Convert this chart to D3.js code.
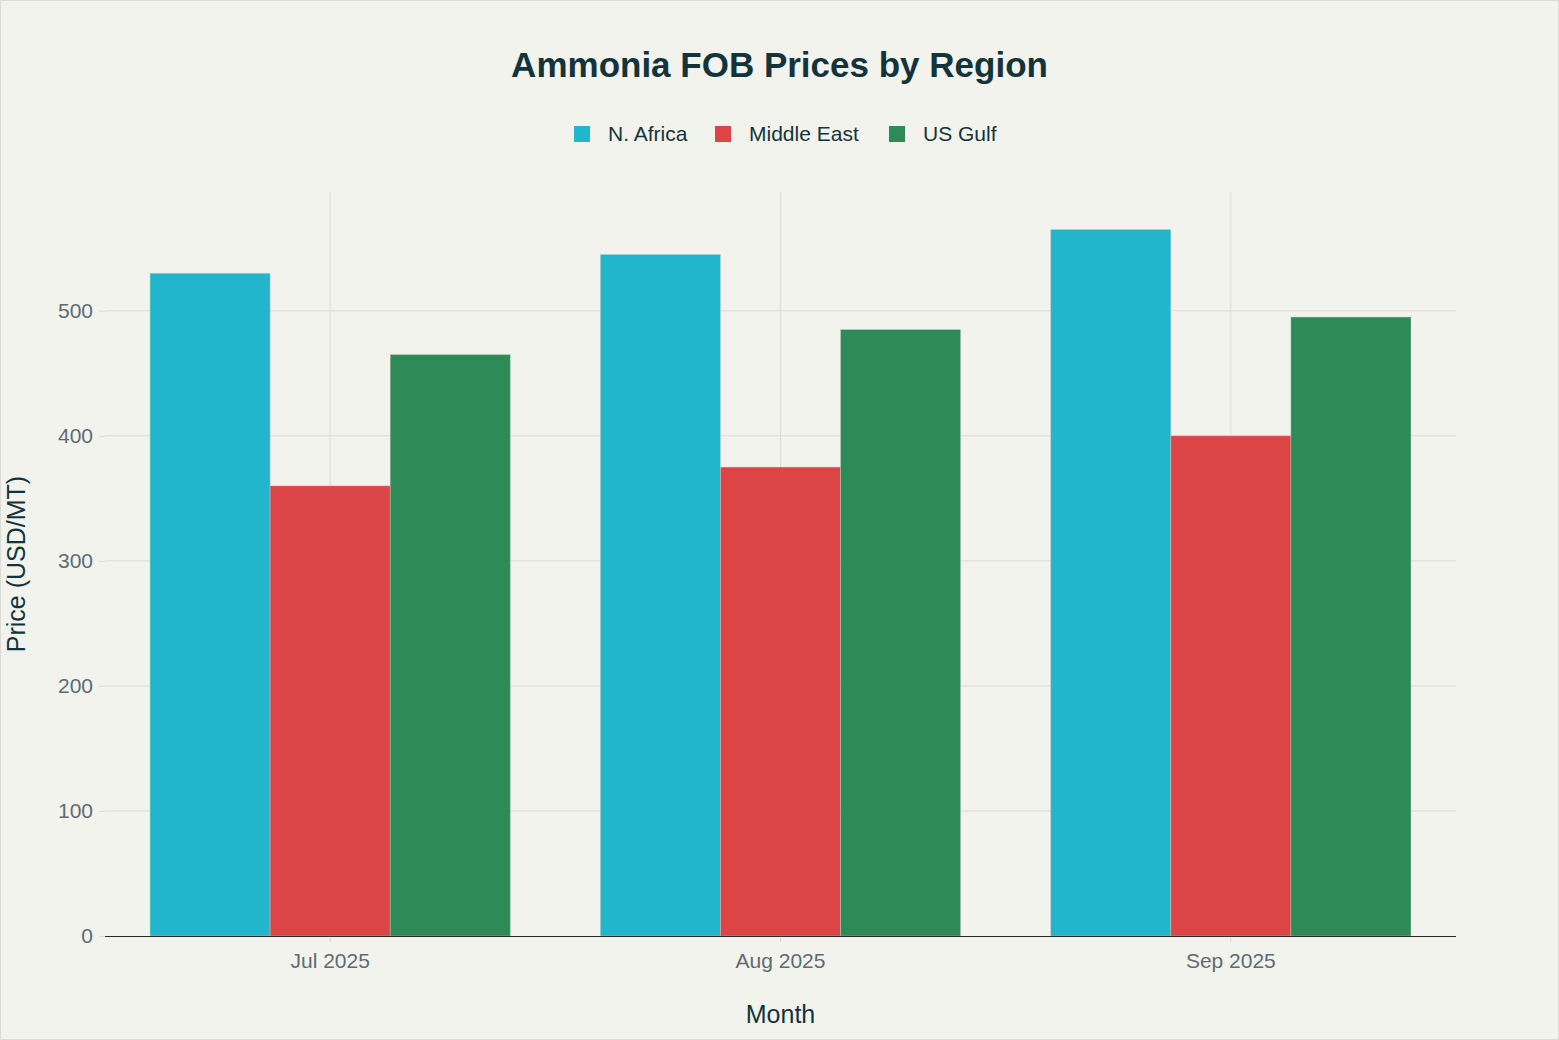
<!DOCTYPE html>
<html>
<head>
<meta charset="utf-8">
<script src="https://cdn.jsdelivr.net/npm/d3@7"></script>
<style>
  html, body { margin: 0; padding: 0; background: #f3f3ee; }
  svg { display: block; font-family: "Liberation Sans", Arial, sans-serif; }
</style>
</head>
<body>
<div id="chart"></div>
<script>
// chart data
const months = ["Jul 2025", "Aug 2025", "Sep 2025"];
const regions = ["N. Africa", "Middle East", "US Gulf"];
const nAfrica = [530, 545, 565];
const middleEast = [360, 375, 400];
const usGulf = [465, 485, 495];
const yTicks = [0, 100, 200, 300, 400, 500];

const seriesValues = [nAfrica, middleEast, usGulf];
const colors = ["#21b6cc", "#db4545", "#2e8b57"];

const width = 1559, height = 1040;
const margin = { top: 192, right: 103, bottom: 104, left: 105 };

const svg = d3.select("#chart").append("svg")
    .attr("width", width)
    .attr("height", height);

// frame
svg.append("rect")
    .attr("x", 0.5).attr("y", 0.5)
    .attr("width", width - 1).attr("height", height - 1)
    .attr("fill", "#f3f3ee")
    .attr("stroke", "#dcdcd6");

const x = d3.scaleBand()
    .domain(months)
    .range([margin.left, width - margin.right])
    .paddingInner(0.2)
    .paddingOuter(0.1);

const xSub = d3.scaleBand()
    .domain(regions)
    .range([0, x.bandwidth()]);

const y = d3.scaleLinear()
    .domain([0, 595])
    .range([height - margin.bottom, margin.top]);

// gridlines
svg.append("g")
  .selectAll("line")
  .data(yTicks.slice(1))
  .join("line")
    .attr("x1", margin.left)
    .attr("x2", width - margin.right)
    .attr("y1", d => y(d))
    .attr("y2", d => y(d))
    .attr("stroke", "#dcdcd6")
    .attr("stroke-width", 1);

svg.append("g")
  .selectAll("line")
  .data(months)
  .join("line")
    .attr("x1", d => x(d) + x.bandwidth() / 2)
    .attr("x2", d => x(d) + x.bandwidth() / 2)
    .attr("y1", margin.top)
    .attr("y2", height - margin.bottom)
    .attr("stroke", "#dcdcd6")
    .attr("stroke-width", 1);

// bars
const groups = svg.append("g")
  .selectAll("g")
  .data(months)
  .join("g")
    .attr("transform", d => `translate(${x(d)},0)`);

groups.selectAll("rect")
  .data((d, i) => regions.map((r, j) => ({ region: r, value: seriesValues[j][i], color: colors[j] })))
  .join("rect")
    .attr("x", d => xSub(d.region))
    .attr("y", d => y(d.value))
    .attr("width", xSub.bandwidth())
    .attr("height", d => y(0) - y(d.value))
    .attr("fill", d => d.color)
    .attr("stroke", "#c8d0cc")
    .attr("stroke-opacity", 0.5)
    .attr("stroke-width", 0.8);

// x axis
const xAxis = svg.append("g")
    .attr("transform", `translate(0,${height - margin.bottom})`)
    .call(d3.axisBottom(x).tickSize(6).tickSizeOuter(0).tickPadding(11));
xAxis.select(".domain").attr("stroke", "#2b2b2b").attr("stroke-width", 1.2)
    .attr("d", `M${margin.left},0.5H${width - margin.right}`);
xAxis.selectAll(".tick line").attr("stroke", "#d5d5d0").attr("y1", 2);
xAxis.selectAll(".tick text")
    .attr("fill", "#5f6b72")
    .attr("font-size", 21)
    .attr("font-family", "Liberation Sans, Arial, sans-serif");

// y axis
const yAxis = svg.append("g")
    .attr("transform", `translate(${margin.left},0)`)
    .call(d3.axisLeft(y).tickValues(yTicks).tickSize(6).tickPadding(6));
yAxis.select(".domain").remove();
yAxis.selectAll(".tick line").attr("stroke", "#dcdcd6");
yAxis.selectAll(".tick text")
    .attr("fill", "#5f6b72")
    .attr("font-size", 21)
    .attr("font-family", "Liberation Sans, Arial, sans-serif");

// title
svg.append("text")
    .attr("x", width / 2)
    .attr("y", 77)
    .attr("text-anchor", "middle")
    .attr("font-size", 35)
    .attr("font-weight", "bold")
    .attr("fill", "#13343b")
    .text("Ammonia FOB Prices by Region");

// axis titles
svg.append("text")
    .attr("x", (margin.left + width - margin.right) / 2)
    .attr("y", 1023)
    .attr("text-anchor", "middle")
    .attr("font-size", 25)
    .attr("fill", "#13343b")
    .text("Month");

svg.append("text")
    .attr("transform", `translate(25,${(margin.top + height - margin.bottom) / 2}) rotate(-90)`)
    .attr("text-anchor", "middle")
    .attr("font-size", 25)
    .attr("fill", "#13343b")
    .text("Price (USD/MT)");

// legend
const legendX = [574, 715, 889];
const legend = svg.append("g")
  .selectAll("g")
  .data(regions)
  .join("g")
    .attr("transform", (d, i) => `translate(${legendX[i]},126)`);
legend.append("rect")
    .attr("width", 16).attr("height", 16)
    .attr("fill", (d, i) => colors[i]);
legend.append("text")
    .attr("x", 34)
    .attr("y", 15)
    .attr("font-size", 21)
    .attr("fill", "#13343b")
    .text(d => d);
</script>
</body>
</html>
